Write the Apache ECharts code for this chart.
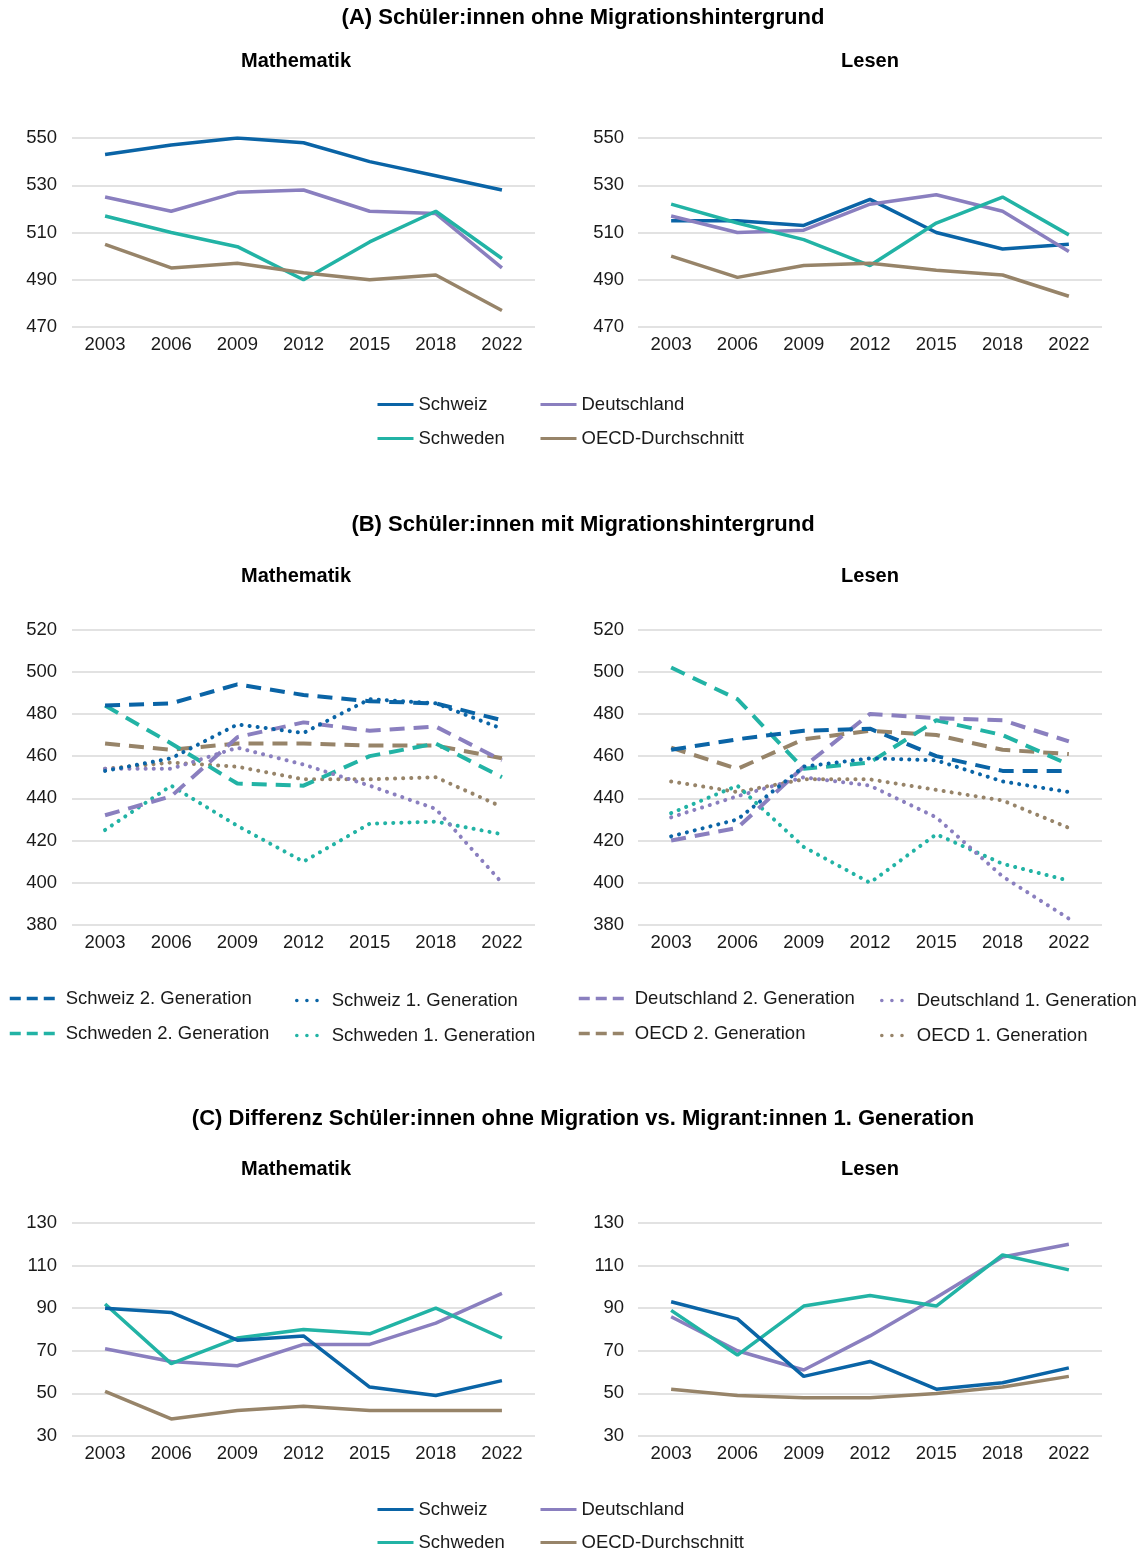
<!DOCTYPE html>
<html>
<head>
<meta charset="utf-8">
<script src="https://cdn.jsdelivr.net/npm/echarts@6/dist/echarts.min.js"></script>
<style>
  html, body { margin: 0; padding: 0; background: #fff; }
  #chart { width: 1144px; height: 1551px; }
</style>
</head>
<body>
<div id="chart"></div>
<script>
const years = ['2003', '2006', '2009', '2012', '2015', '2018', '2022'];

// (A) ohne Migrationshintergrund
const aMathSchweiz = [543, 547, 550, 548, 540, 534, 528];
const aMathDeutschland = [525, 519, 527, 528, 519, 518, 495];
const aMathSchweden = [517, 510, 504, 490, 506, 519, 499];
const aMathOECD = [505, 495, 497, 493, 490, 492, 477];
const aLesSchweiz = [515, 515, 513, 524, 510, 503, 505];
const aLesDeutschland = [517, 510, 511, 522, 526, 519, 502];
const aLesSchweden = [522, 514, 507, 496, 514, 525, 509];
const aLesOECD = [500, 491, 496, 497, 494, 492, 483];

// (B) mit Migrationshintergrund
const bMathSchweiz2 = [484, 485, 494, 489, 486, 485, 477];
const bMathSchweiz1 = [453, 459, 475, 471, 487, 485, 473];
const bMathDeutschland2 = [432, 441, 469, 476, 472, 474, 458];
const bMathDeutschland1 = [454, 454, 464, 456, 446, 435, 400];
const bMathSchweden2 = [484, 466, 447, 446, 460, 466, 450];
const bMathSchweden1 = [425, 446, 427, 410, 428, 429, 423];
const bMathOECD2 = [466, 463, 466, 466, 465, 465, 459];
const bMathOECD1 = [454, 457, 455, 449, 449, 450, 436];
const bLesSchweiz2 = [463, 468, 472, 473, 460, 453, 453];
const bLesSchweiz1 = [422, 430, 455, 459, 458, 448, 443];
const bLesDeutschland2 = [420, 426, 455, 480, 478, 477, 467];
const bLesDeutschland1 = [431, 441, 450, 446, 431, 403, 383];
const bLesSchweden2 = [502, 487, 454, 457, 477, 470, 456];
const bLesSchweden1 = [433, 446, 417, 400, 423, 409, 401];
const bLesOECD2 = [464, 454, 468, 472, 470, 463, 461];
const bLesOECD1 = [448, 443, 449, 449, 444, 439, 426];

// (C) Differenz ohne Migration vs. 1. Generation
const cMathSchweiz = [90, 88, 75, 77, 53, 49, 56];
const cMathDeutschland = [71, 65, 63, 73, 73, 83, 97];
const cMathSchweden = [92, 64, 76, 80, 78, 90, 76];
const cMathOECD = [51, 38, 42, 44, 42, 42, 42];
const cLesSchweiz = [93, 85, 58, 65, 52, 55, 62];
const cLesDeutschland = [86, 70, 61, 77, 95, 114, 120];
const cLesSchweden = [89, 68, 91, 96, 91, 115, 108];
const cLesOECD = [52, 49, 48, 48, 50, 53, 58];

const C_CH = '#0a64a6';
const C_DE = '#8a7fbf';
const C_SE = '#22b3a5';
const C_OECD = '#978469';

const FONT = '"Liberation Sans", Arial, sans-serif';
const DASH = [15, 9];
const DOT = [0.1, 8];

const chart = echarts.init(document.getElementById('chart'));

const grids = [
  { left: 72, width: 463, top: 138, height: 189 },
  { left: 638, width: 464, top: 138, height: 189 },
  { left: 72, width: 463, top: 629.5, height: 295.5 },
  { left: 638, width: 464, top: 629.5, height: 295.5 },
  { left: 72, width: 463, top: 1223, height: 213 },
  { left: 638, width: 464, top: 1223, height: 213 }
];
const yRanges = [
  [470, 550], [470, 550], [380, 520], [380, 520], [30, 130], [30, 130]
];

const xAxes = grids.map((g, i) => ({
  type: 'category',
  gridIndex: i,
  data: years,
  axisLine: { show: false },
  axisTick: { show: false },
  axisLabel: { fontSize: 18.5, color: '#1a1a1a', fontFamily: FONT, margin: 8 }
}));
const yAxes = grids.map((g, i) => ({
  type: 'value',
  gridIndex: i,
  min: yRanges[i][0],
  max: yRanges[i][1],
  interval: 20,
  axisLine: { show: false },
  axisTick: { show: false },
  axisLabel: { fontSize: 18.5, color: '#1a1a1a', fontFamily: FONT, margin: i % 2 ? 14 : 15 },
  splitLine: { lineStyle: { color: '#d9d9d9', width: 1.5 } }
}));

const mk = (name, data, idx, color, type, width) => ({
  name: name,
  type: 'line',
  xAxisIndex: idx,
  yAxisIndex: idx,
  data: data,
  symbol: 'none',
  animation: false,
  color: color,
  lineStyle: { color: color, width: width, type: type, cap: type === DOT ? 'round' : 'butt' }
});

const series = [
  mk('Schweiz', aMathSchweiz, 0, C_CH, 'solid', 3.5),
  mk('Deutschland', aMathDeutschland, 0, C_DE, 'solid', 3.5),
  mk('Schweden', aMathSchweden, 0, C_SE, 'solid', 3.5),
  mk('OECD-Durchschnitt', aMathOECD, 0, C_OECD, 'solid', 3.5),
  mk('Schweiz', aLesSchweiz, 1, C_CH, 'solid', 3.5),
  mk('Deutschland', aLesDeutschland, 1, C_DE, 'solid', 3.5),
  mk('Schweden', aLesSchweden, 1, C_SE, 'solid', 3.5),
  mk('OECD-Durchschnitt', aLesOECD, 1, C_OECD, 'solid', 3.5),

  mk('OECD 1. Generation', bMathOECD1, 2, C_OECD, DOT, 4),
  mk('OECD 2. Generation', bMathOECD2, 2, C_OECD, DASH, 4),
  mk('Schweden 1. Generation', bMathSchweden1, 2, C_SE, DOT, 4),
  mk('Schweden 2. Generation', bMathSchweden2, 2, C_SE, DASH, 4),
  mk('Deutschland 1. Generation', bMathDeutschland1, 2, C_DE, DOT, 4),
  mk('Deutschland 2. Generation', bMathDeutschland2, 2, C_DE, DASH, 4),
  mk('Schweiz 1. Generation', bMathSchweiz1, 2, C_CH, DOT, 4),
  mk('Schweiz 2. Generation', bMathSchweiz2, 2, C_CH, DASH, 4),
  mk('OECD 1. Generation', bLesOECD1, 3, C_OECD, DOT, 4),
  mk('OECD 2. Generation', bLesOECD2, 3, C_OECD, DASH, 4),
  mk('Schweden 1. Generation', bLesSchweden1, 3, C_SE, DOT, 4),
  mk('Schweden 2. Generation', bLesSchweden2, 3, C_SE, DASH, 4),
  mk('Deutschland 1. Generation', bLesDeutschland1, 3, C_DE, DOT, 4),
  mk('Deutschland 2. Generation', bLesDeutschland2, 3, C_DE, DASH, 4),
  mk('Schweiz 1. Generation', bLesSchweiz1, 3, C_CH, DOT, 4),
  mk('Schweiz 2. Generation', bLesSchweiz2, 3, C_CH, DASH, 4),

  mk('OECD-Durchschnitt', cMathOECD, 4, C_OECD, 'solid', 3.5),
  mk('Deutschland', cMathDeutschland, 4, C_DE, 'solid', 3.5),
  mk('Schweden', cMathSchweden, 4, C_SE, 'solid', 3.5),
  mk('Schweiz', cMathSchweiz, 4, C_CH, 'solid', 3.5),
  mk('OECD-Durchschnitt', cLesOECD, 5, C_OECD, 'solid', 3.5),
  mk('Deutschland', cLesDeutschland, 5, C_DE, 'solid', 3.5),
  mk('Schweden', cLesSchweden, 5, C_SE, 'solid', 3.5),
  mk('Schweiz', cLesSchweiz, 5, C_CH, 'solid', 3.5)
];

const legendText = { fontSize: 18.5, color: '#1a1a1a', fontFamily: FONT, lineHeight: 18 };
const leg = (left, top, data, w, gap, lineType) => ({
  orient: 'vertical',
  left: left,
  top: top,
  height: 80,
  data: data,
  itemWidth: w,
  itemHeight: 4,
  itemGap: gap,
  padding: 0,
  selectedMode: false,
  itemStyle: { opacity: 0 },
  lineStyle: { type: lineType, width: lineType === 'solid' ? 3 : 3.5, cap: lineType === 'solid' ? 'butt' : (lineType[0] < 1 ? 'round' : 'butt') },
  textStyle: legendText
});

const mainTitle = (text, top) => ({
  text: text,
  left: 583,
  top: top,
  textAlign: 'center',
  padding: 0,
  textStyle: { fontSize: 22, fontWeight: 'bold', color: '#000', fontFamily: FONT }
});
const subTitle = (text, x, top) => ({
  text: text,
  left: x,
  top: top,
  textAlign: 'center',
  padding: 0,
  textStyle: { fontSize: 20, fontWeight: 'bold', color: '#000', fontFamily: FONT }
});

chart.setOption({
  backgroundColor: '#fff',
  animation: false,
  title: [
    mainTitle('(A) Schüler:innen ohne Migrationshintergrund', 7),
    subTitle('Mathematik', 296, 51),
    subTitle('Lesen', 870, 51),
    mainTitle('(B) Schüler:innen mit Migrationshintergrund', 514),
    subTitle('Mathematik', 296, 566),
    subTitle('Lesen', 870, 566),
    mainTitle('(C) Differenz Schüler:innen ohne Migration vs. Migrant:innen 1. Generation', 1108),
    subTitle('Mathematik', 296, 1159),
    subTitle('Lesen', 870, 1159)
  ],
  legend: [
    leg(376, 395, ['Schweiz', 'Schweden'], 36, 15, 'solid'),
    leg(539, 395, ['Deutschland', 'OECD-Durchschnitt'], 36, 15, 'solid'),
    leg(8, 989, ['Schweiz 2. Generation', 'Schweden 2. Generation'], 51, 16, [11, 6]),
    leg(295, 991, ['Schweiz 1. Generation', 'Schweden 1. Generation'], 30, 16, [0.1, 10]),
    leg(577, 989, ['Deutschland 2. Generation', 'OECD 2. Generation'], 51, 16, [11, 6]),
    leg(880, 991, ['Deutschland 1. Generation', 'OECD 1. Generation'], 30, 16, [0.1, 10]),
    leg(376, 1500, ['Schweiz', 'Schweden'], 36, 14, 'solid'),
    leg(539, 1500, ['Deutschland', 'OECD-Durchschnitt'], 36, 14, 'solid')
  ],
  grid: grids,
  xAxis: xAxes,
  yAxis: yAxes,
  series: series
});
</script>
</body>
</html>
